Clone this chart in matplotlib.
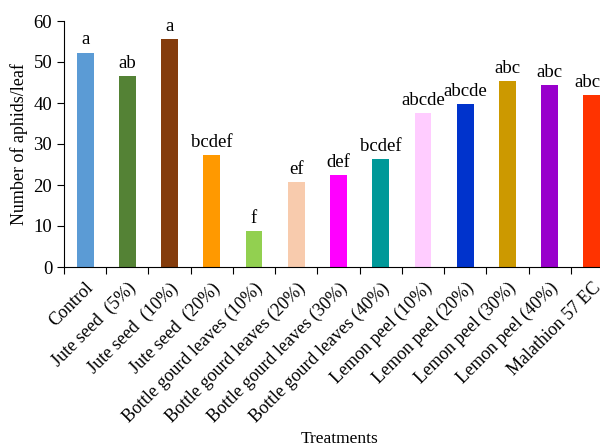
import numpy as np
import matplotlib.pyplot as plt

plt.rcParams['font.family'] = ['Liberation Serif', 'DejaVu Serif']

treatments = ["Control", "Jute seed  (5%)", "Jute seed  (10%)", "Jute seed  (20%)",
              "Bottle gourd leaves (10%)", "Bottle gourd leaves (20%)",
              "Bottle gourd leaves (30%)", "Bottle gourd leaves (40%)",
              "Lemon peel (10%)", "Lemon peel (20%)", "Lemon peel (30%)",
              "Lemon peel (40%)", "Malathion 57 EC"]
aphids = [52.3, 46.6, 55.7, 27.4, 8.7, 20.7, 22.4, 26.3, 37.6, 39.7, 45.3, 44.3, 42.0]
letters = ["a", "ab", "a", "bcdef", "f", "ef", "def", "bcdef", "abcde", "abcde",
           "abc", "abc", "abcd"]
colors = ["#5B9BD5", "#548235", "#843C0C", "#FF9900", "#92D050", "#F8CBAD",
          "#FF00FF", "#009999", "#FFCCFF", "#0033CC", "#CC9900", "#9900CC", "#FF3300"]

fig = plt.figure(figsize=(6, 4.46), dpi=100)
# axes runs past the right edge, like the cropped original
ax = fig.add_axes([64/600, 179/446, 549/600, 246/446])

x = np.arange(len(treatments))
ax.bar(x, aphids, width=0.4, color=colors)
for xi, v, lab in zip(x, aphids, letters):
    ax.text(xi, v + 1.0, lab, ha='center', va='bottom', fontsize=13.5)

ax.set_xlim(-0.5, len(treatments) - 0.5)
ax.set_ylim(0, 60)
ax.set_yticks(range(0, 61, 10))
ax.set_xticks(np.arange(-0.5, len(treatments), 1))
ax.set_xticklabels([])
ax.set_xticks(x, minor=True)
ax.set_xticklabels(treatments, minor=True, rotation=45, ha='right',
                   rotation_mode='anchor', fontsize=13)
ax.tick_params(axis='x', which='minor', length=0, pad=9)
ax.tick_params(axis='x', which='major', length=5, direction='out')
ax.tick_params(axis='y', labelsize=13.5, length=5)

ax.spines['top'].set_visible(False)
ax.spines['right'].set_visible(False)
ax.set_ylabel("Number of aphids/leaf", fontsize=13)
fig.text(340/600, 1 - 439/446, "Treatments", ha='center', va='center', fontsize=12.5)

fig.savefig("out.png", dpi=100)
